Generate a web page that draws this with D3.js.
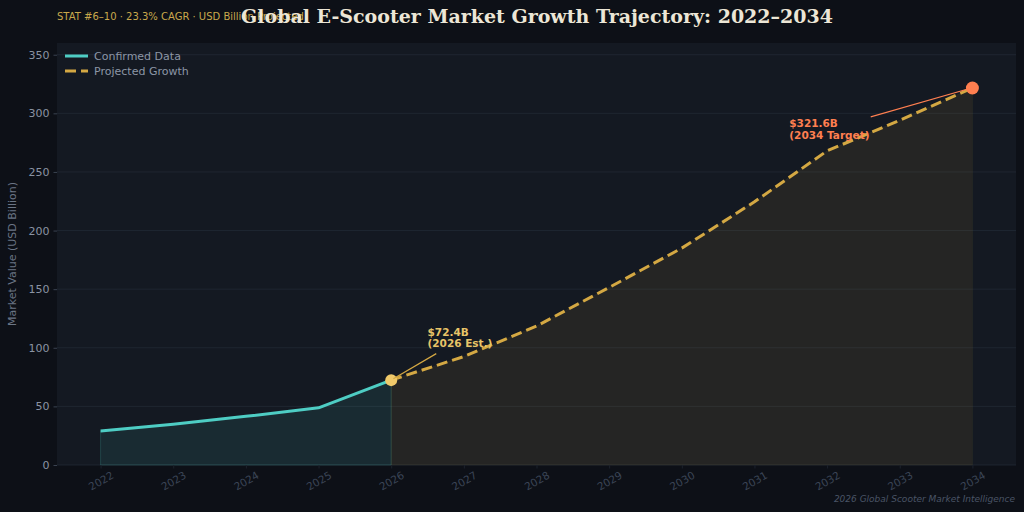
<!DOCTYPE html>
<html>
<head>
<meta charset="utf-8">
<script src="https://cdn.jsdelivr.net/npm/d3@7/dist/d3.min.js"></script>
<style>
  html, body { margin: 0; padding: 0; background: #0d1017; }
  svg { display: block; }
</style>
</head>
<body>
<svg id="chart" width="1024" height="512"></svg>
<script>
// confirmed + projected market values (USD billion)
var confirmedYears = [2022, 2023, 2024, 2025, 2026];
var confirmedValues = [29.0, 34.7, 41.5, 48.8, 72.4];
var projectedYears = [2026, 2027, 2028, 2029, 2030, 2031, 2032, 2033, 2034];
var projectedValues = [72.4, 92.5, 118.5, 151.5, 185.0, 224.5, 268.0, 294.0, 321.6];
var yTicks = [0, 50, 100, 150, 200, 250, 300, 350];
var xTicks = [2022, 2023, 2024, 2025, 2026, 2027, 2028, 2029, 2030, 2031, 2032, 2033, 2034];

var svg = d3.select("#chart");
var margin = {top: 43, right: 8, bottom: 47, left: 57};
var width = 1024 - margin.left - margin.right;
var height = 512 - margin.top - margin.bottom;

svg.append("rect").attr("width", 1024).attr("height", 512).attr("fill", "#0d1017");

var g = svg.append("g").attr("transform", "translate(" + margin.left + "," + margin.top + ")");

var x = d3.scaleLinear().domain([2021.4, 2034.6]).range([0, width]);
var y = d3.scaleLinear().domain([0, 360]).range([height, 0]);

g.append("rect").attr("width", width).attr("height", height).attr("fill", "#141922");

// grid
g.append("g").selectAll("line")
  .data(yTicks)
  .enter().append("line")
    .attr("x1", 0).attr("x2", width)
    .attr("y1", function(d) { return y(d); })
    .attr("y2", function(d) { return y(d); })
    .attr("stroke", "#222a35").attr("stroke-width", 0.8);

var conf = confirmedYears.map(function(d, i) { return {year: d, value: confirmedValues[i]}; });
var proj = projectedYears.map(function(d, i) { return {year: d, value: projectedValues[i]}; });

var area = d3.area()
  .x(function(d) { return x(d.year); })
  .y0(y(0))
  .y1(function(d) { return y(d.value); });

var line = d3.line()
  .x(function(d) { return x(d.year); })
  .y(function(d) { return y(d.value); });

g.append("path").datum(conf).attr("d", area)
  .attr("fill", "#4ecdc4").attr("fill-opacity", 0.1)
  .attr("stroke", "#4ecdc4").attr("stroke-opacity", 0.2).attr("stroke-width", 1);

g.append("path").datum(proj).attr("d", area)
  .attr("fill", "#d4a843").attr("fill-opacity", 0.09)
  .attr("stroke", "#d4a843").attr("stroke-opacity", 0.06).attr("stroke-width", 1);

g.append("path").datum(conf).attr("d", line)
  .attr("fill", "none").attr("stroke", "#4ecdc4").attr("stroke-width", 3)
  .attr("stroke-linejoin", "round");

g.append("path").datum(proj).attr("d", line)
  .attr("fill", "none").attr("stroke", "#d4a843").attr("stroke-width", 3)
  .attr("stroke-dasharray", "11,5");

// y axis
var yAxis = g.append("g")
  .call(d3.axisLeft(y).tickValues(yTicks).tickSize(3.5).tickPadding(4));
yAxis.select(".domain").remove();
yAxis.selectAll("line").attr("stroke", "#3a4250");
yAxis.selectAll("text").attr("fill", "#8a93a3").attr("font-size", "11px")
  .attr("font-family", "DejaVu Sans");

// x axis
var xAxis = g.append("g").attr("transform", "translate(0," + height + ")")
  .call(d3.axisBottom(x).tickValues(xTicks).tickFormat(d3.format("d")).tickSize(3.5).tickPadding(0));
xAxis.select(".domain").remove();
xAxis.selectAll("line").attr("stroke", "#1c222c");
xAxis.selectAll("text")
  .attr("fill", "#3b4556").attr("font-size", "10.5px").attr("font-family", "DejaVu Sans")
  .attr("text-anchor", "middle").attr("y", 0).attr("dy", "0.35em")
  .attr("transform", "translate(0,16) rotate(-30)");

svg.append("text")
  .attr("transform", "translate(16," + (margin.top + height / 2) + ") rotate(-90)")
  .attr("text-anchor", "middle").attr("fill", "#6b7585")
  .attr("font-size", "11px").attr("font-family", "DejaVu Sans")
  .text("Market Value (USD Billion)");

// highlight markers
var last = proj[proj.length - 1];
g.append("circle").attr("cx", x(2026)).attr("cy", y(72.4)).attr("r", 6).attr("fill", "#f0c96a");
g.append("circle").attr("cx", x(last.year)).attr("cy", y(last.value)).attr("r", 6.5).attr("fill", "#ff7f50");

// annotations
g.append("line")
  .attr("x1", x(2026.62)).attr("y1", y(95))
  .attr("x2", x(2026.03)).attr("y2", y(73.5))
  .attr("stroke", "#d4a843").attr("stroke-width", 1.2);
var a1 = g.append("text").attr("fill", "#e8c468").attr("font-weight", "bold")
  .attr("font-size", "10.5px").attr("font-family", "DejaVu Sans");
a1.append("tspan").attr("x", x(2026.5)).attr("y", y(110)).text("$72.4B");
a1.append("tspan").attr("x", x(2026.5)).attr("y", y(100.5)).text("(2026 Est.)");

g.append("line")
  .attr("x1", x(2032.6)).attr("y1", y(297))
  .attr("x2", x(2033.95)).attr("y2", y(321))
  .attr("stroke", "#ff7f50").attr("stroke-width", 1.2);
var a2 = g.append("text").attr("fill", "#ff7f50").attr("font-weight", "bold")
  .attr("font-size", "10.5px").attr("font-family", "DejaVu Sans");
a2.append("tspan").attr("x", x(2031.48)).attr("y", y(288)).text("$321.6B");
a2.append("tspan").attr("x", x(2031.48)).attr("y", y(278.5)).text("(2034 Target)");

// legend
var legend = g.append("g").attr("transform", "translate(8,13)");
legend.append("line").attr("x1", 0).attr("x2", 23).attr("y1", 0).attr("y2", 0)
  .attr("stroke", "#4ecdc4").attr("stroke-width", 3);
legend.append("line").attr("x1", 0).attr("x2", 23).attr("y1", 15).attr("y2", 15)
  .attr("stroke", "#d4a843").attr("stroke-width", 3).attr("stroke-dasharray", "11,5");
legend.append("text").attr("x", 29).attr("y", 0).attr("dy", "0.35em")
  .attr("fill", "#8c96a6").attr("font-size", "11px").attr("font-family", "DejaVu Sans")
  .text("Confirmed Data");
legend.append("text").attr("x", 29).attr("y", 15).attr("dy", "0.35em")
  .attr("fill", "#8c96a6").attr("font-size", "11px").attr("font-family", "DejaVu Sans")
  .text("Projected Growth");

// titles
svg.append("text").attr("x", 57).attr("y", 20)
  .attr("fill", "#c9a84c").attr("font-size", "10px").attr("font-family", "DejaVu Sans")
  .text("STAT #6–10 · 23.3% CAGR · USD Billion Projected");
svg.append("text").attr("x", 537).attr("y", 23).attr("text-anchor", "middle")
  .attr("fill", "#ece6d6").attr("font-size", "19px").attr("font-weight", "bold")
  .attr("font-family", "DejaVu Serif")
  .text("Global E-Scooter Market Growth Trajectory: 2022–2034");
svg.append("text").attr("x", 1015).attr("y", 502).attr("text-anchor", "end")
  .attr("fill", "#4a5466").attr("font-size", "9px").attr("font-style", "italic")
  .attr("font-family", "DejaVu Sans")
  .text("2026 Global Scooter Market Intelligence");
</script>
</body>
</html>
